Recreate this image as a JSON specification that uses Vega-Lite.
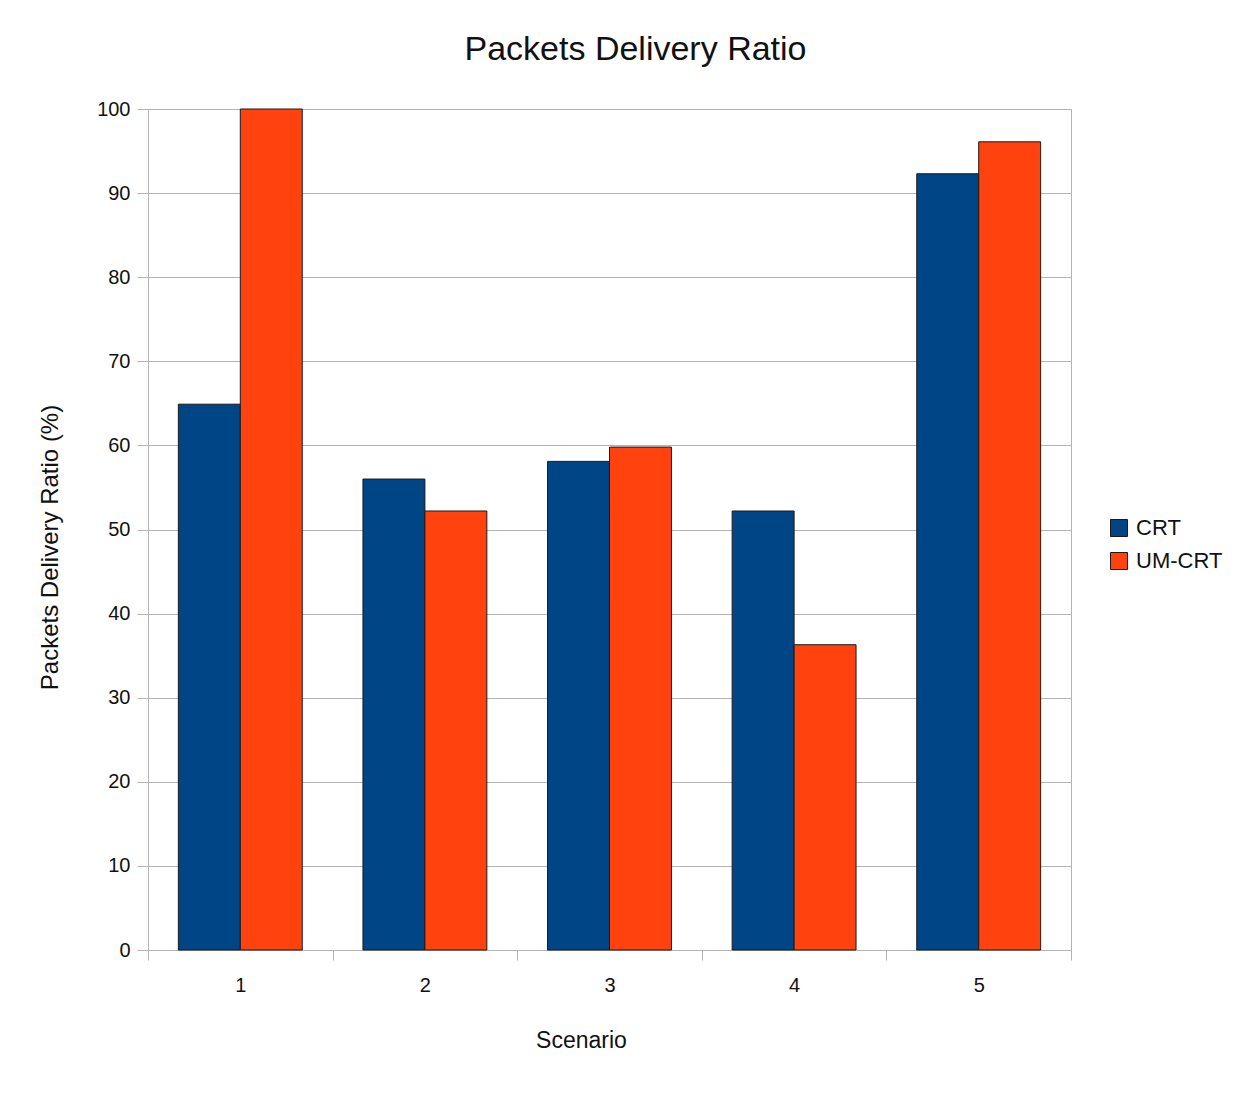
{
  "$schema": "https://vega.github.io/schema/vega-lite/v6.json",
  "width": 923,
  "height": 841,
  "autosize": {"type": "none"},
  "padding": {"left": 148, "top": 109, "right": 186, "bottom": 143},
  "background": "white",
  "config": {
    "font": "Liberation Sans",
    "view": {"stroke": "#b3b3b3", "strokeWidth": 1},
    "axis": {
      "labelFont": "Liberation Sans",
      "titleFont": "Liberation Sans",
      "labelColor": "#111111",
      "titleColor": "#111111",
      "domainColor": "#b3b3b3",
      "tickColor": "#b3b3b3",
      "gridColor": "#b3b3b3",
      "gridOpacity": 1,
      "titleFontWeight": "normal"
    }
  },
  "title": {
    "text": "Packets Delivery Ratio",
    "font": "Liberation Sans",
    "fontSize": 34,
    "fontWeight": "normal",
    "color": "#111111",
    "anchor": "middle",
    "frame": "group",
    "dx": 26,
    "offset": 32
  },
  "data": {
    "values": [
      {"scenario": "1", "protocol": "CRT", "pdr": 64.9},
      {"scenario": "1", "protocol": "UM-CRT", "pdr": 100},
      {"scenario": "2", "protocol": "CRT", "pdr": 56.0},
      {"scenario": "2", "protocol": "UM-CRT", "pdr": 52.2},
      {"scenario": "3", "protocol": "CRT", "pdr": 58.1},
      {"scenario": "3", "protocol": "UM-CRT", "pdr": 59.8},
      {"scenario": "4", "protocol": "CRT", "pdr": 52.2},
      {"scenario": "4", "protocol": "UM-CRT", "pdr": 36.3},
      {"scenario": "5", "protocol": "CRT", "pdr": 92.3},
      {"scenario": "5", "protocol": "UM-CRT", "pdr": 96.1}
    ]
  },
  "mark": {"type": "bar", "stroke": "#1a1a1a", "strokeWidth": 1},
  "encoding": {
    "x": {
      "field": "scenario",
      "type": "nominal",
      "scale": {"paddingInner": 0, "paddingOuter": 0},
      "axis": {
        "title": "Scenario",
        "titleFontSize": 23,
        "titleX": 433,
        "titlePadding": 34,
        "labelFontSize": 20,
        "labelAngle": 0,
        "labelPadding": 15,
        "tickSize": 10,
        "tickBand": "extent",
        "grid": false
      }
    },
    "xOffset": {
      "field": "protocol",
      "type": "nominal",
      "scale": {"paddingInner": 0, "paddingOuter": 0.49}
    },
    "y": {
      "field": "pdr",
      "type": "quantitative",
      "scale": {"domain": [0, 100], "nice": false},
      "axis": {
        "title": "Packets Delivery Ratio (%)",
        "titleFontSize": 24,
        "titleY": 438,
        "titlePadding": 34,
        "labelFontSize": 20,
        "labelPadding": 7,
        "tickSize": 11,
        "values": [0, 10, 20, 30, 40, 50, 60, 70, 80, 90, 100],
        "grid": true
      }
    },
    "color": {
      "field": "protocol",
      "type": "nominal",
      "scale": {"domain": ["CRT", "UM-CRT"], "range": ["#004586", "#ff420e"]},
      "legend": {
        "title": null,
        "orient": "none",
        "legendX": 960,
        "legendY": 408,
        "symbolType": "square",
        "symbolSize": 289,
        "symbolStrokeColor": "#1a1a1a",
        "symbolStrokeWidth": 1,
        "labelFont": "Liberation Sans",
        "labelFontSize": 22,
        "labelColor": "#111111",
        "labelOffset": 6,
        "rowPadding": 11,
        "padding": 0
      }
    }
  }
}
